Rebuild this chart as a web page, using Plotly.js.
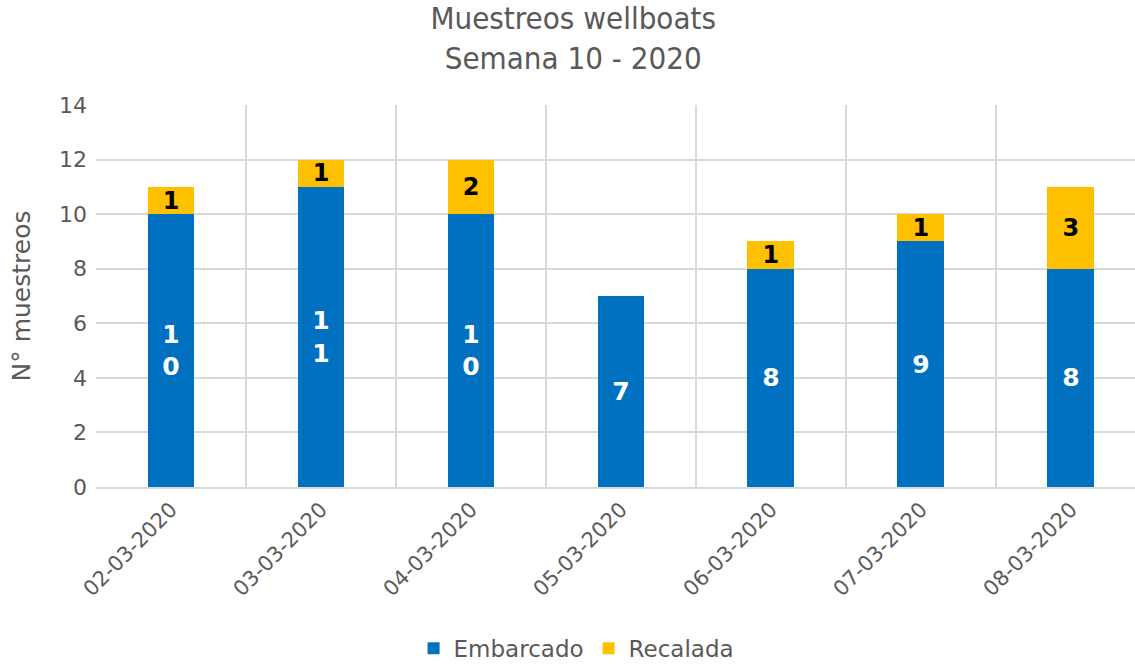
<!DOCTYPE html>
<html>
<head>
<meta charset="utf-8">
<script src="https://cdn.plot.ly/plotly-3.0.1.min.js"></script>
<style>html,body{margin:0;padding:0;background:#fff;}#chart{width:1135px;height:664px;}</style>
</head>
<body>
<div id="chart"></div>
<script>
const fechas = ["02-03-2020","03-03-2020","04-03-2020","05-03-2020","06-03-2020","07-03-2020","08-03-2020"];
const embarcado = [10, 11, 10, 7, 8, 9, 8];
const recalada = [1, 1, 2, 0, 1, 1, 3];

const splitDigits = v => (v ? String(v).split('').join('<br>') : '');

const FONT = 'Verdana, "DejaVu Sans", sans-serif';
const GRAY = '#595959';

const traces = [
  {
    type: 'bar', name: 'Embarcado', x: fechas, y: embarcado,
    marker: {color: '#0070C0'},
    text: embarcado.map(splitDigits), textposition: 'inside', insidetextanchor: 'middle',
    textangle: 0, constraintext: 'none',
    textfont: {family: FONT, size: 25, color: '#FFFFFF', weight: 'bold'},
    hoverinfo: 'x+y'
  },
  {
    type: 'bar', name: 'Recalada', x: fechas, y: recalada,
    marker: {color: '#FFC000'},
    text: recalada.map(splitDigits), textposition: 'inside', insidetextanchor: 'middle',
    textangle: 0, constraintext: 'none',
    textfont: {family: FONT, size: 24, color: '#000000', weight: 'bold'},
    hoverinfo: 'x+y'
  }
];

const layout = {
  width: 1135, height: 664,
  margin: {l: 96, r: 0, t: 105, b: 177, pad: 0, autoexpand: false},
  paper_bgcolor: '#FFFFFF', plot_bgcolor: '#FFFFFF',
  barmode: 'stack', bargap: 0.687,
  font: {family: FONT, color: GRAY},
  title: {
    text: 'Muestreos wellboats<br>Semana 10 - 2020',
    font: {family: '"DejaVu Sans Condensed", "Liberation Sans Narrow", "DejaVu Sans", sans-serif', size: 31, color: GRAY},
    xref: 'container', x: 0.505, xanchor: 'center',
    yref: 'container', y: 0.957, yanchor: 'top'
  },
  xaxis: {
    type: 'category', range: [-0.5, 6.427],
    tickson: 'boundaries', showgrid: true, gridcolor: '#D9D9D9', gridwidth: 2,
    showline: true, linecolor: '#D9D9D9', linewidth: 2,
    ticks: '', tickangle: -45,
    tickfont: {family: FONT, size: 21, color: GRAY},
    fixedrange: true
  },
  yaxis: {
    range: [0, 14], dtick: 2, tick0: 0,
    showgrid: true, gridcolor: '#D9D9D9', gridwidth: 2,
    zeroline: false, showline: false, ticks: '',
    tickfont: {family: FONT, size: 22, color: GRAY},
    ticklabelstandoff: 8,
    title: {text: 'N° muestreos', font: {family: FONT, size: 25, color: GRAY}, standoff: 21},
    fixedrange: true
  },
  showlegend: true,
  legend: {
    orientation: 'h', xref: 'container', x: 0.508, xanchor: 'center',
    yref: 'container', y: 0.056, yanchor: 'top',
    font: {family: FONT, size: 23, color: GRAY},
    itemwidth: 30, traceorder: 'normal'
  }
};

Plotly.newPlot('chart', traces, layout, {displayModeBar: false, staticPlot: true});
</script>
</body>
</html>
